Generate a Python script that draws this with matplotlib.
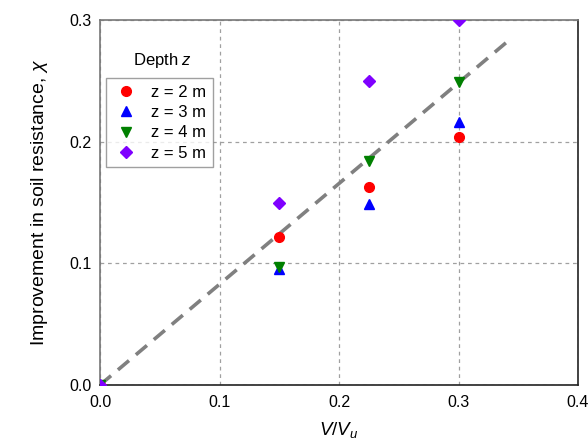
import matplotlib
matplotlib.use("Agg")
import matplotlib.pyplot as plt
from matplotlib.lines import Line2D

plt.rcParams['font.family'] = ['Liberation Sans', 'DejaVu Sans']
plt.rcParams['mathtext.fontset'] = 'custom'
plt.rcParams['mathtext.rm'] = 'Liberation Sans'
plt.rcParams['mathtext.it'] = 'Liberation Sans:italic'

# data
ratio = [0.0, 0.15, 0.225, 0.3]
z2 = [0.0, 0.122, 0.163, 0.204]
z3 = [0.0, 0.095, 0.149, 0.216]
z4 = [0.0, 0.097, 0.184, 0.249]
z5 = [0.0, 0.150, 0.250, 0.300]
labels = ['z = 2 m', 'z = 3 m', 'z = 4 m', 'z = 5 m']
fit_x = [0.0, 0.343]
fit_y = [0.0, 0.284]
xticks = [0.0, 0.1, 0.2, 0.3, 0.4]
yticks = [0.0, 0.1, 0.2, 0.3]

fig = plt.figure(figsize=(5.88, 4.47), dpi=100)
ax = fig.add_axes([100/588, 1-385/447, 478/588, 365/447])

ax.set_xlim(0, 0.4)
ax.set_ylim(0, 0.3)
ax.set_xticks(xticks)
ax.set_yticks(yticks)
ax.set_xticklabels([f"{t:.1f}" for t in xticks])
ax.set_yticklabels([f"{t:.1f}" for t in yticks])
ax.tick_params(length=0, labelsize=11.5)
ax.tick_params(axis='x', pad=7)
ax.tick_params(axis='y', pad=6)
ax.grid(True, color='#a0a0a0', linestyle=(0, (3, 3)), linewidth=0.9)
ax.set_axisbelow(True)
for s in ['left', 'top']:
    ax.spines[s].set_color('#777777')
for s in ['bottom', 'right']:
    ax.spines[s].set_color('#222222')
for s in ax.spines.values():
    s.set_linewidth(1.2)

ax.plot(fit_x, fit_y, color='#808080', linewidth=2.6, linestyle=(0, (4, 2.5)), zorder=2)

styles = [('o', 'red'), ('^', 'blue'), ('v', 'green'), ('D', '#7f00ff')]
series = [z2, z3, z4, z5]
handles = []
for (m, c), ys, lab in zip(styles, series, labels):
    ms = 6 if m == 'D' else 7
    ax.plot(ratio, ys, linestyle='none', marker=m, color=c, markersize=ms, zorder=3)
    handles.append(Line2D([], [], linestyle='none', marker=m, color=c, markersize=ms, label=lab))

leg = ax.legend(handles=handles, loc='upper left', bbox_to_anchor=(0.013, 0.841),
                fontsize=12, frameon=True, fancybox=False, handletextpad=0.7,
                borderpad=0.4, labelspacing=0.32, handlelength=1.6, borderaxespad=0)
leg.get_frame().set_edgecolor('#888888')
leg.get_frame().set_linewidth(1.0)

ax.text(0.130, 0.888, 'Depth $z$', transform=ax.transAxes, ha='center', va='center', fontsize=12)

ax.set_xlabel('$V/V_u$', fontsize=13.5)
ax.set_ylabel('Improvement in soil resistance, $\\chi$', fontsize=14)
ax.xaxis.set_label_coords(0.5, -0.095)
ax.yaxis.set_label_coords(-0.105, 0.5)

fig.savefig('out.png', dpi=100)
